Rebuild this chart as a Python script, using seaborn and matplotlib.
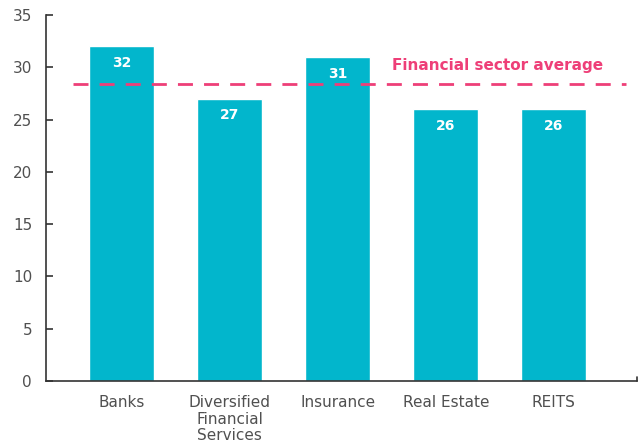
import matplotlib
matplotlib.use("Agg")
import matplotlib.pyplot as plt
import seaborn as sns
import pandas as pd

categories = ["Banks", "Diversified\nFinancial\nServices", "Insurance", "Real Estate", "REITS"]
values = [32, 27, 31, 26, 26]
sector_average = 28.4
avg_label = "Financial sector average"

bar_color = "#02B6CC"
pink = "#EE3F78"
text_gray = "#505050"

sns.set_theme(style="white")
plt.rcParams["font.family"] = ["DejaVu Sans"]

df = pd.DataFrame({"category": categories, "value": values})

fig = plt.figure(figsize=(6.43, 4.43), dpi=100)
ax = fig.add_axes([46 / 643, 1 - 381 / 443, (637 - 46) / 643, (381 - 15) / 443])

sns.barplot(data=df, x="category", y="value", color=bar_color, width=0.6,
            saturation=1, ax=ax)

# value labels inside the top of each bar
for i, v in enumerate(values):
    ax.text(i, v - 1.6, str(v), ha="center", va="center", color="white",
            fontsize=10, fontweight="bold")

# sector average reference line
ax.plot([-0.45, 4.67], [sector_average, sector_average], color=pink, lw=2,
        dashes=(5.4, 4.0))
ax.text(4.46, 30.2, avg_label, ha="right", va="center", color=pink,
        fontsize=11, fontweight="bold")

ax.set_xlim(-0.7, 4.77)
ax.set_ylim(0, 35)
ax.set_yticks(range(0, 36, 5))
ax.set_xlabel("")
ax.set_ylabel("")

for s in ["top", "right"]:
    ax.spines[s].set_visible(False)
for s in ["left", "bottom"]:
    ax.spines[s].set_color("#333333")
    ax.spines[s].set_linewidth(1.2)

ax.tick_params(axis="y", left=True, direction="in", length=5, width=1.2,
               color="#333333", labelcolor=text_gray, labelsize=11, pad=10)
ax.tick_params(axis="x", length=0, labelcolor=text_gray, labelsize=11, pad=10)
for lbl in ax.get_xticklabels():
    lbl.set_linespacing(1.15)

# small end mark on the category axis
ax.plot([4.77, 4.77], [0, 0.4], color="#333333", lw=1.2, clip_on=False)

fig.savefig("out.png", dpi=100)
